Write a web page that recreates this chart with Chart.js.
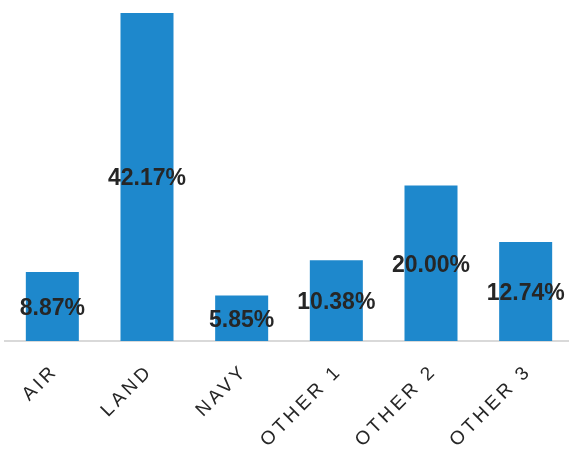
<!DOCTYPE html>
<html>
<head>
<meta charset="utf-8">
<script src="https://cdn.jsdelivr.net/npm/chart.js@4/dist/chart.umd.min.js"></script>
<style>
  html, body { margin: 0; padding: 0; background: #fff; overflow: hidden; }
  #wrap { width: 574px; height: 450px; position: relative; }
</style>
</head>
<body>
<div id="wrap"><canvas id="c"></canvas></div>
<script>
const categories = ["AIR", "LAND", "NAVY", "OTHER 1", "OTHER 2", "OTHER 3"];
const shares = [8.87, 42.17, 5.85, 10.38, 20.00, 12.74];
const valueLabels = ["8.87%", "42.17%", "5.85%", "10.38%", "20.00%", "12.74%"];

const spacingPlugin = {
  id: 'spacing',
  beforeUpdate(chart) { chart.ctx.letterSpacing = '3.5px'; },
  beforeLayout(chart) { chart.ctx.letterSpacing = '3.5px'; },
  beforeDraw(chart) { chart.ctx.letterSpacing = '3.5px'; },
  afterDatasetsDraw(chart) {
    const ctx = chart.ctx;
    ctx.save();
    ctx.letterSpacing = '0px';
    ctx.font = 'bold 23px "Liberation Sans", Arial, sans-serif';
    ctx.fillStyle = '#262626';
    ctx.textAlign = 'center';
    ctx.textBaseline = 'middle';
    const meta = chart.getDatasetMeta(0);
    meta.data.forEach((bar, i) => {
      const y = (bar.y + bar.base) / 2 + 2;
      ctx.fillText(valueLabels[i], bar.x, y);
    });
    ctx.restore();
  }
};

new Chart(document.getElementById('c'), {
  type: 'bar',
  data: {
    labels: categories,
    datasets: [{
      data: shares,
      backgroundColor: '#1E88CC',
      borderWidth: 0,
      barPercentage: 0.56,
      categoryPercentage: 1.0
    }]
  },
  options: {
    responsive: true,
    maintainAspectRatio: false,
    animation: false,
    layout: { padding: { top: 13, left: 5, right: 1, bottom: 0 } },
    plugins: { legend: { display: false }, tooltip: { enabled: false } },
    scales: {
      x: {
        grid: { display: false, drawTicks: false },
        border: { display: true, color: '#d9d9d9', width: 2 },
        ticks: {
          color: '#262626',
          font: { family: '"Liberation Sans", Arial, sans-serif', size: 19 },
          minRotation: 45,
          maxRotation: 45,
          padding: 19,
          labelOffset: 3
        },
        afterFit(scale) { scale.height = 109; }
      },
      y: {
        display: false,
        min: 0,
        max: 42.17
      }
    }
  },
  plugins: [spacingPlugin]
});
</script>
</body>
</html>
